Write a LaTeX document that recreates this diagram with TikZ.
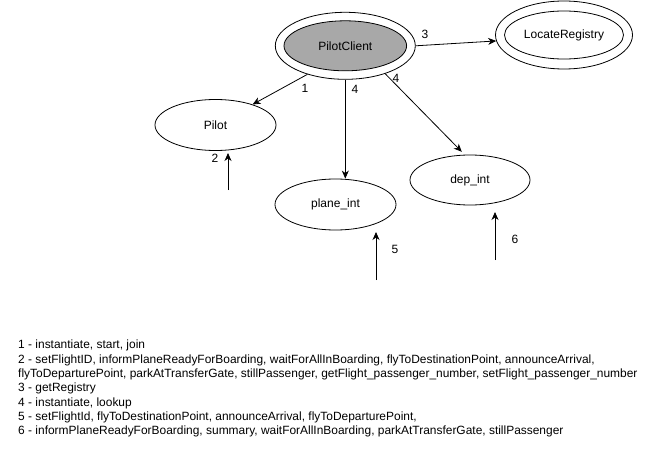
\documentclass[tikz,border=0pt]{standalone}
\usepackage{fontspec}
\setmainfont{Liberation Sans}
\usetikzlibrary{shapes.geometric,arrows.meta,calc}
\definecolor{fillgray}{HTML}{A8A8A8}
\begin{document}
\begin{tikzpicture}[x=1pt,y=-1pt,
  every node/.style={font=\fontsize{12}{14}\selectfont},
  el/.style={ellipse, draw, line width=0.8pt, inner sep=0pt},
  arr/.style={-{Stealth[length=8pt,width=7pt,inset=2.5pt]}, line width=0.8pt},
  lbl/.style={inner sep=0pt}
]
\useasboundingbox (0,0) rectangle (656,460);
% double ellipses
\node[el, minimum width=140pt, minimum height=67pt] (pc) at (345.3,45.8) {};
\node[el, fill=fillgray, minimum width=122.6pt, minimum height=50pt] (pcin) at (345.3,45.8) {PilotClient};
\node[el, minimum width=137pt, minimum height=68pt] (lr) at (564,35) {};
\node[el, minimum width=119pt, minimum height=48pt] (lrin) at (564,35) {LocateRegistry};
% simple ellipses
\node[el, minimum width=121pt, minimum height=51pt] (pilot) at (215.5,125) {Pilot};
\node[el, minimum width=121pt, minimum height=51pt] (plane) at (335.5,204.5) {plane\_int};
\node[el, minimum width=120pt, minimum height=50pt] (dep) at (470,180) {dep\_int};
% connectors
\draw[arr] (pc.-143) -- (pilot.29);
\draw[arr] (pc.south) -- (pc.south |- plane.north);
\draw[arr] (pc.-35) -- ($(dep.106)+(-1,-3)$);
\draw[arr] (pc.east) -- (lr.185);
\coordinate (s2) at (228,190); \coordinate (e2) at (228,153);
\coordinate (s5) at (376,280); \coordinate (e5) at (376,232);
\coordinate (s6) at (495,260); \coordinate (e6) at (495,212);
\draw[arr] (s2) -- (e2);
\draw[arr] (s5) -- (e5);
\draw[arr] (s6) -- (e6);
% labels
\node[lbl] (l1) at (305,88) {1};
\node[lbl] (l4a) at (355,89) {4};
\node[lbl] (l4b) at (396,78) {4};
\node[lbl] (l3) at (425,34) {3};
\node[lbl] (l2) at (215,158) {2};
\node[lbl] (l5) at (395,249) {5};
\node[lbl] (l6) at (515,239) {6};
% legend
\node[anchor=north west, inner sep=0pt, align=left, font=\fontsize{11.95}{14.3}\selectfont] (legend) at (18,340) {%
1 - instantiate, start, join\\
2 - setFlightID, informPlaneReadyForBoarding, waitForAllInBoarding, flyToDestinationPoint, announceArrival,\\
flyToDeparturePoint, parkAtTransferGate, stillPassenger, getFlight\_passenger\_number, setFlight\_passenger\_number\\
3 - getRegistry\\
4 - instantiate, lookup\\
5 - setFlightId, flyToDestinationPoint, announceArrival, flyToDeparturePoint,\\
6 - informPlaneReadyForBoarding, summary, waitForAllInBoarding, parkAtTransferGate, stillPassenger};
\end{tikzpicture}
\end{document}
